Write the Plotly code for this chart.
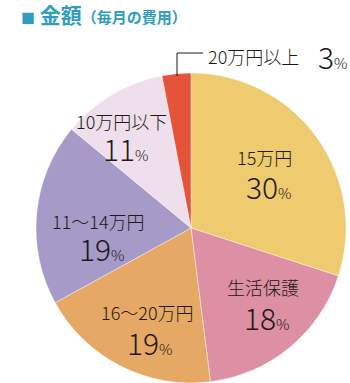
import plotly.graph_objects as go

# ---- data ----
categories = ["15万円", "生活保護", "16～20万円", "11～14万円", "10万円以下", "20万円以上"]
shares = [30, 18, 19, 19, 11, 3]
colors = ["#EDCB6E", "#DD90A3", "#E5A965", "#A69AC9", "#EFDFEC", "#E5533A"]

W, H = 350, 383
FONT = "Noto Sans CJK JP"
NUMFONT = "Noto Sans CJK JP"

def px(x):
    return x / W

def py(y):
    return 1 - y / H

fig = go.Figure()
fig.add_trace(go.Pie(
    labels=categories,
    values=shares,
    sort=False,
    direction="clockwise",
    rotation=0,
    marker=dict(colors=colors, line=dict(color="rgba(255,255,255,0.7)", width=0.6)),
    textinfo="none",
    hoverinfo="label+percent",
    showlegend=False,
    domain=dict(x=[px(36), px(346)], y=[0, py(73)]),
))

# label placements (pixel coords): name center, pct center
label_pos = {
    "15万円": ((264, 157), (269, 186)),
    "生活保護": ((263, 287), (267, 317)),
    "16～20万円": ((147, 312), (150, 342)),
    "11～14万円": ((98, 221), (102, 248)),
    "10万円以下": ((121, 121), (126, 148)),
}

annotations = []
for cat, val in zip(categories, shares):
    if cat not in label_pos:
        continue
    (nx, ny), (vx, vy) = label_pos[cat]
    annotations.append(dict(
        x=px(nx), y=py(ny), xref="paper", yref="paper",
        text=cat, showarrow=False, xanchor="center", yanchor="middle",
        font=dict(family=FONT, size=18, color="#231815", weight=300),
    ))
    annotations.append(dict(
        x=px(vx), y=py(vy), xref="paper", yref="paper",
        text=f"{val}<span style='font-size:15px'>%</span>", showarrow=False,
        xanchor="center", yanchor="middle",
        font=dict(family=NUMFONT, size=30, color="#231815", weight=300),
    ))

# outside label for the small slice
small_cat, small_val = categories[-1], shares[-1]
annotations.append(dict(
    x=px(206), y=py(56), xref="paper", yref="paper",
    text=small_cat, showarrow=False, xanchor="left", yanchor="middle",
    font=dict(family=FONT, size=18, color="#231815", weight=300),
))
annotations.append(dict(
    x=px(316), y=py(56), xref="paper", yref="paper",
    text=f"{small_val}<span style='font-size:15px'>%</span>", showarrow=False,
    xanchor="left", yanchor="middle",
    font=dict(family=NUMFONT, size=30, color="#231815", weight=300),
))

# title
annotations.append(dict(
    x=px(19), y=py(14), xref="paper", yref="paper",
    text="<span style='font-size:14px'>■</span> <b>金額</b><span style='font-size:15px'><b>（毎月の費用）</b></span>",
    showarrow=False, xanchor="left", yanchor="middle",
    font=dict(family=FONT, size=21, color="#2F9CC0"),
))

shapes = [dict(
    type="path", xref="paper", yref="paper",
    path=f"M {px(177)},{py(76)} L {px(177)},{py(53)} L {px(203)},{py(53)}",
    line=dict(color="#231815", width=1),
)]

fig.update_layout(
    width=W, height=H,
    margin=dict(l=0, r=0, t=0, b=0),
    paper_bgcolor="white", plot_bgcolor="white",
    annotations=annotations, shapes=shapes,
)

fig.write_html("out.html")
